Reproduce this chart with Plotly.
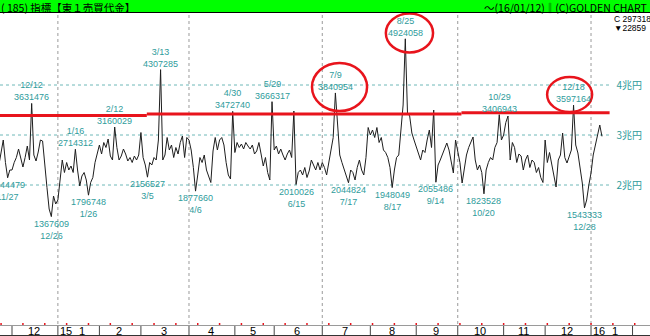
import pandas as pd
import plotly.graph_objects as go

# ---------------- data ----------------
jp_holidays = ['2014-11-24', '2014-12-23', '2014-12-31', '2015-01-01', '2015-01-02', '2015-01-12',
               '2015-02-11', '2015-04-29', '2015-05-04', '2015-05-05', '2015-05-06', '2015-07-20',
               '2015-09-21', '2015-09-22', '2015-09-23', '2015-10-12', '2015-11-03', '2015-11-23',
               '2015-12-23', '2015-12-31', '2016-01-01', '2016-01-11']
dates = [d.strftime('%Y-%m-%d') for d in pd.bdate_range('2014-11-20', '2016-01-12')
         if d.strftime('%Y-%m-%d') not in jp_holidays]
# projected calendar for the bottom month band (after the last data day)
future_days = [d.strftime('%Y-%m-%d') for d in pd.bdate_range('2016-01-13', '2016-02-26')]

# daily turnover, TSE 1st section (million yen)
v_2014_11 = [2400000, 2620000, 2900000, 2450000, 2144479, 2300000]
v_2014_12 = [2300000, 2450000, 2550000, 2720000, 2520000, 2360000, 2550000, 2780000, 2500000, 3631476,
             2600000, 2480000, 2660000, 2900000, 2880000, 2350000, 1950000, 1520000, 1367609, 1780000,
             1620000]
v_2015_01 = [1700000, 2050000, 2500000, 2250000, 2450000, 2300000, 2380000, 2250000, 2714312, 2300000,
             1980000, 2180000, 2250000, 2100000, 1796748, 2050000, 2150000, 2450000, 2650000]
v_2015_02 = [2800000, 2620000, 2850000, 2750000, 2920000, 2580000, 2500000, 3160029, 2750000, 2500000,
             2580000, 2720000, 2620000, 2480000, 2550000, 2450000, 2580000, 2500000, 2600000]
v_2015_03 = [3050000, 2550000, 2400000, 2156527, 2450000, 2400000, 2550000, 2500000, 2900000, 4307285,
             2500000, 2600000, 2950000, 2700000, 2800000, 2550000, 2750000, 2620000, 2850000, 2980000,
             2550000, 2950000]
v_2015_04 = [2900000, 2700000, 2350000, 1877660, 2200000, 2550000, 2450000, 2600000, 2300000, 2150000,
             2050000, 2680000, 2950000, 2700000, 2900000, 2950000, 2800000, 2450000, 2200000, 2120000,
             3472740]
v_2015_05 = [2650000, 2850000, 2750000, 2820000, 2720000, 2850000, 2780000, 2720000, 2800000, 2620000,
             2680000, 2850000, 2620000, 2380000, 2550000, 2250000, 2100000, 3666317]
v_2015_06 = [2700000, 2780000, 2620000, 2720000, 2600000, 2500000, 2620000, 2700000, 2550000, 3480000,
             2010026, 2250000, 2300000, 2200000, 2350000, 2150000, 2280000, 2500000, 2400000, 2300000,
             2450000, 2300000]
v_2015_07 = [2450000, 2350000, 2200000, 2450000, 2700000, 2950000, 3840954, 3100000, 2600000, 2450000,
             2300000, 2150000, 2044824, 2300000, 2250000, 2100000, 2350000, 2500000, 2300000, 2200000,
             2550000, 3150000]
v_2015_08 = [3000000, 3100000, 2950000, 3150000, 2850000, 2950000, 2700000, 2650000, 2550000, 2350000,
             1948049, 2300000, 2550000, 2600000, 3050000, 3600000, 4924058, 3440000, 3380000, 3040000,
             2900000]
v_2015_09 = [2760000, 2600000, 2500000, 2700000, 2650000, 2900000, 3100000, 2750000, 3500000, 2055486,
             2400000, 2500000, 2620000, 2760000, 2840000, 2700000, 2500000, 2240000, 2900000]
v_2015_10 = [2700000, 2450000, 2040000, 2300000, 2600000, 2750000, 2850000, 2960000, 2500000, 2300000,
             2400000, 2250000, 1823528, 2300000, 2450000, 2550000, 2500000, 2750000, 2850000, 3406943,
             2900000]
v_2015_11 = [3000000, 3250000, 3380000, 2500000, 2850000, 2750000, 2450000, 2620000, 2580000, 2300000,
             2500000, 2600000, 2350000, 2500000, 2450000, 2250000, 2350000, 2150000, 2050000]
v_2015_12 = [2900000, 2450000, 2650000, 2400000, 2150000, 1960000, 2500000, 2600000, 3040000, 2550000,
             2440000, 2560000, 2700000, 3597164, 2800000, 2640000, 2300000, 2040000, 1543333, 1700000,
             2000000]
v_2016_01 = [2240000, 2600000, 2780000, 2960000, 3200000, 2973185]

values = (v_2014_11 + v_2014_12 + v_2015_01 + v_2015_02 + v_2015_03 + v_2015_04 + v_2015_05 +
          v_2015_06 + v_2015_07 + v_2015_08 + v_2015_09 + v_2015_10 + v_2015_11 + v_2015_12 + v_2016_01)
if len(values) != len(dates):
    raise SystemExit(f'length mismatch {len(values)} vs {len(dates)}')

# labelled highs / lows
label_dates = ['2014-11-27', '2014-12-12', '2014-12-26', '2015-01-16', '2015-01-26', '2015-02-12',
               '2015-03-05', '2015-03-13', '2015-04-06', '2015-04-30', '2015-05-29', '2015-06-15',
               '2015-07-09', '2015-07-17', '2015-08-17', '2015-08-25', '2015-09-14', '2015-10-20',
               '2015-10-29', '2015-12-18', '2015-12-28']
label_kind = ['low', 'high', 'low', 'high', 'low', 'high', 'low', 'high', 'low', 'high', 'high', 'low',
              'high', 'low', 'low', 'high', 'low', 'low', 'high', 'high', 'low']

# right axis ticks
y_ticks = [2000000, 3000000, 4000000]
y_ticktext = ['2兆円', '3兆円', '4兆円']

# hand-drawn resistance line (level, from, to)
res_levels = [3390000, 3420000, 3445000]
res_breaks = ['2015-03-05', '2015-10-05']

# circled labels: (x0, x1, y0, y1) in trading-day index / value units
circles = [(143.3, 168.5, 3480000, 4440000),
           (177.1, 198.7, 4650000, 5430000),
           (250.9, 271.5, 3460000, 4160000)]

header_left = '( 185) 指標【東１売買代金】'
header_right = '～(16/01/12)‖(C)GOLDEN CHART'
close_text = 'C 297318'
change_text = '▼22859'

# ---------------- layout constants ----------------
W, H = 650, 336
TOP = 13
PH = H - TOP
PX_PER_DAY = 2.185
DEC1 = dates.index('2014-12-01')


def idx_at(px):
    return DEC1 + (px - 12) / PX_PER_DAY


def val_at(py):
    return 2000000 + (185 - py) * 20000


def pap(py):
    return (H - py) / PH


x_range = [idx_at(0), idx_at(W)]
y_range = [val_at(H), val_at(TOP)]
teal = '#2f9c9c'
red = '#e8141c'
narrow = 'Liberation Sans Narrow, Arial Narrow, Liberation Sans, sans-serif'
jp = 'Noto Sans CJK JP, sans-serif'

fig = go.Figure()
fig.add_trace(go.Scatter(x=dates, y=values, mode='lines', line=dict(color='#1e1e1e', width=1),
                         hoverinfo='skip', showlegend=False))

shapes = []
annotations = []

# header bar
shapes.append(dict(type='rect', xref='paper', yref='paper', x0=0, x1=1, y0=1, y1=1 + TOP / PH,
                   fillcolor='#00ff00', line=dict(width=0), layer='above'))
shapes.append(dict(type='line', xref='paper', yref='paper', x0=0, x1=1, y0=1 + 0.5 / PH, y1=1 + 0.5 / PH,
                   line=dict(color='#000000', width=1)))
annotations.append(dict(text=header_left, xref='paper', yref='paper', x=0, y=1 + 6 / PH,
                        xanchor='left', yanchor='middle', showarrow=False, borderpad=0,
                        font=dict(family=jp, size=10.5, color='#000')))
annotations.append(dict(text=header_right, xref='paper', yref='paper', x=648 / W, y=1 + 6 / PH,
                        xanchor='right', yanchor='middle', showarrow=False, borderpad=0,
                        font=dict(family=jp, size=10.5, color='#000')))
annotations.append(dict(text=close_text, xref='paper', yref='paper', x=613 / W, y=pap(19),
                        xanchor='left', yanchor='middle', showarrow=False, borderpad=0,
                        font=dict(family=narrow, size=8.5, color='#000')))
annotations.append(dict(text=change_text, xref='paper', yref='paper', x=613 / W, y=pap(28),
                        xanchor='left', yanchor='middle', showarrow=False, borderpad=0,
                        font=dict(family=narrow, size=8.5, color='#000')))

# horizontal dotted grid (ends before the right labels)
grid_end = len(dates) - 1 + 3.5
for v in y_ticks:
    shapes.append(dict(type='line', xref='x', yref='y', x0=x_range[0], x1=grid_end, y0=v, y1=v,
                       line=dict(color='#6fb8b8', width=1, dash='dot'), layer='below'))

# month band
all_days = dates + future_days
month_starts = []
prev = None
for i, d in enumerate(all_days):
    ym = d[:7]
    if ym != prev:
        month_starts.append((i, d))
        prev = ym
for k, (i, d) in enumerate(month_starts):
    if k > 0:
        shapes.append(dict(type='line', xref='x', yref='paper', x0=i, x1=i, y0=0, y1=pap(326),
                           line=dict(color='#444', width=1)))
        if d[5:7] in ('01', '04', '07', '10'):
            shapes.append(dict(type='line', xref='x', yref='paper', x0=i, x1=i, y0=pap(324), y1=1,
                               line=dict(color='#9a9a9a', width=1, dash='dot'), layer='below'))
    if k + 1 < len(month_starts) and k > 0:
        nxt = month_starts[k + 1][0]
        month = int(d[5:7])
        center = (i + nxt) / 2 - 0.5
        if month == 1:
            annotations.append(dict(text=d[2:4], xref='x', yref='paper', x=i + 0.6, y=pap(331),
                                    xanchor='left', yanchor='middle', showarrow=False, borderpad=0,
                                    font=dict(family=narrow, size=11, color='#000')))
            center += 2
        annotations.append(dict(text=str(month), xref='x', yref='paper', x=center, y=pap(331),
                                xanchor='center', yanchor='middle', showarrow=False, borderpad=0,
                                font=dict(family=narrow, size=11, color='#000')))
shapes.append(dict(type='line', xref='paper', yref='paper', x0=0, x1=1, y0=pap(325.5), y1=pap(325.5),
                   line=dict(color='#9a9a9a', width=1)))
shapes.append(dict(type='line', xref='paper', yref='paper', x0=0, x1=1, y0=pap(335.5), y1=pap(335.5),
                   line=dict(color='#333', width=1)))
for i in range(1, len(all_days), 10):
    shapes.append(dict(type='line', xref='x', yref='paper', x0=i, x1=i, y0=pap(325), y1=pap(323),
                       line=dict(color=red, width=1.5)))

# resistance line
b = [x_range[0], dates.index(res_breaks[0]) - 0.3, dates.index(res_breaks[1]) - 0.3, grid_end]
for k, lev in enumerate(res_levels):
    shapes.append(dict(type='line', xref='x', yref='y', x0=b[k], x1=b[k + 1], y0=lev, y1=lev,
                       line=dict(color=red, width=3)))

# circles
for (x0, x1, y0, y1) in circles:
    shapes.append(dict(type='circle', xref='x', yref='y', x0=x0, x1=x1, y0=y0, y1=y1,
                       line=dict(color=red, width=2.5)))

# high / low labels (two-line text: date over value for highs, value over date for lows)
for d, kind in zip(label_dates, label_kind):
    i = dates.index(d)
    v = values[i]
    dtxt = f'{int(d[5:7])}/{int(d[8:10])}'
    vtxt = f'{v}'
    if kind == 'high':
        txt, anchor, sh = f'{dtxt}<br>{vtxt}', 'bottom', 0
    else:
        txt, anchor, sh = f'{vtxt}<br>{dtxt}', 'top', -1
    annotations.append(dict(text=txt, x=d, y=v, xref='x', yref='y', yshift=sh, showarrow=False,
                            xanchor='center', yanchor=anchor, borderpad=0,
                            font=dict(family=narrow, size=9, color=teal)))

fig.update_layout(
    width=W, height=H,
    margin=dict(l=0, r=0, t=TOP, b=0, pad=0),
    paper_bgcolor='white', plot_bgcolor='white',
    showlegend=False,
    xaxis=dict(type='category', range=x_range, showticklabels=False, showgrid=False,
               zeroline=False, showline=False, ticks=''),
    yaxis=dict(range=y_range, side='right', tickvals=y_ticks, ticktext=y_ticktext,
               ticklabelposition='inside', ticks='', ticklabelstandoff=5,
               tickfont=dict(family=jp, size=10, color=teal),
               showgrid=False, zeroline=False, showline=False),
    shapes=shapes,
    annotations=annotations,
)

fig.write_html('out.html')
